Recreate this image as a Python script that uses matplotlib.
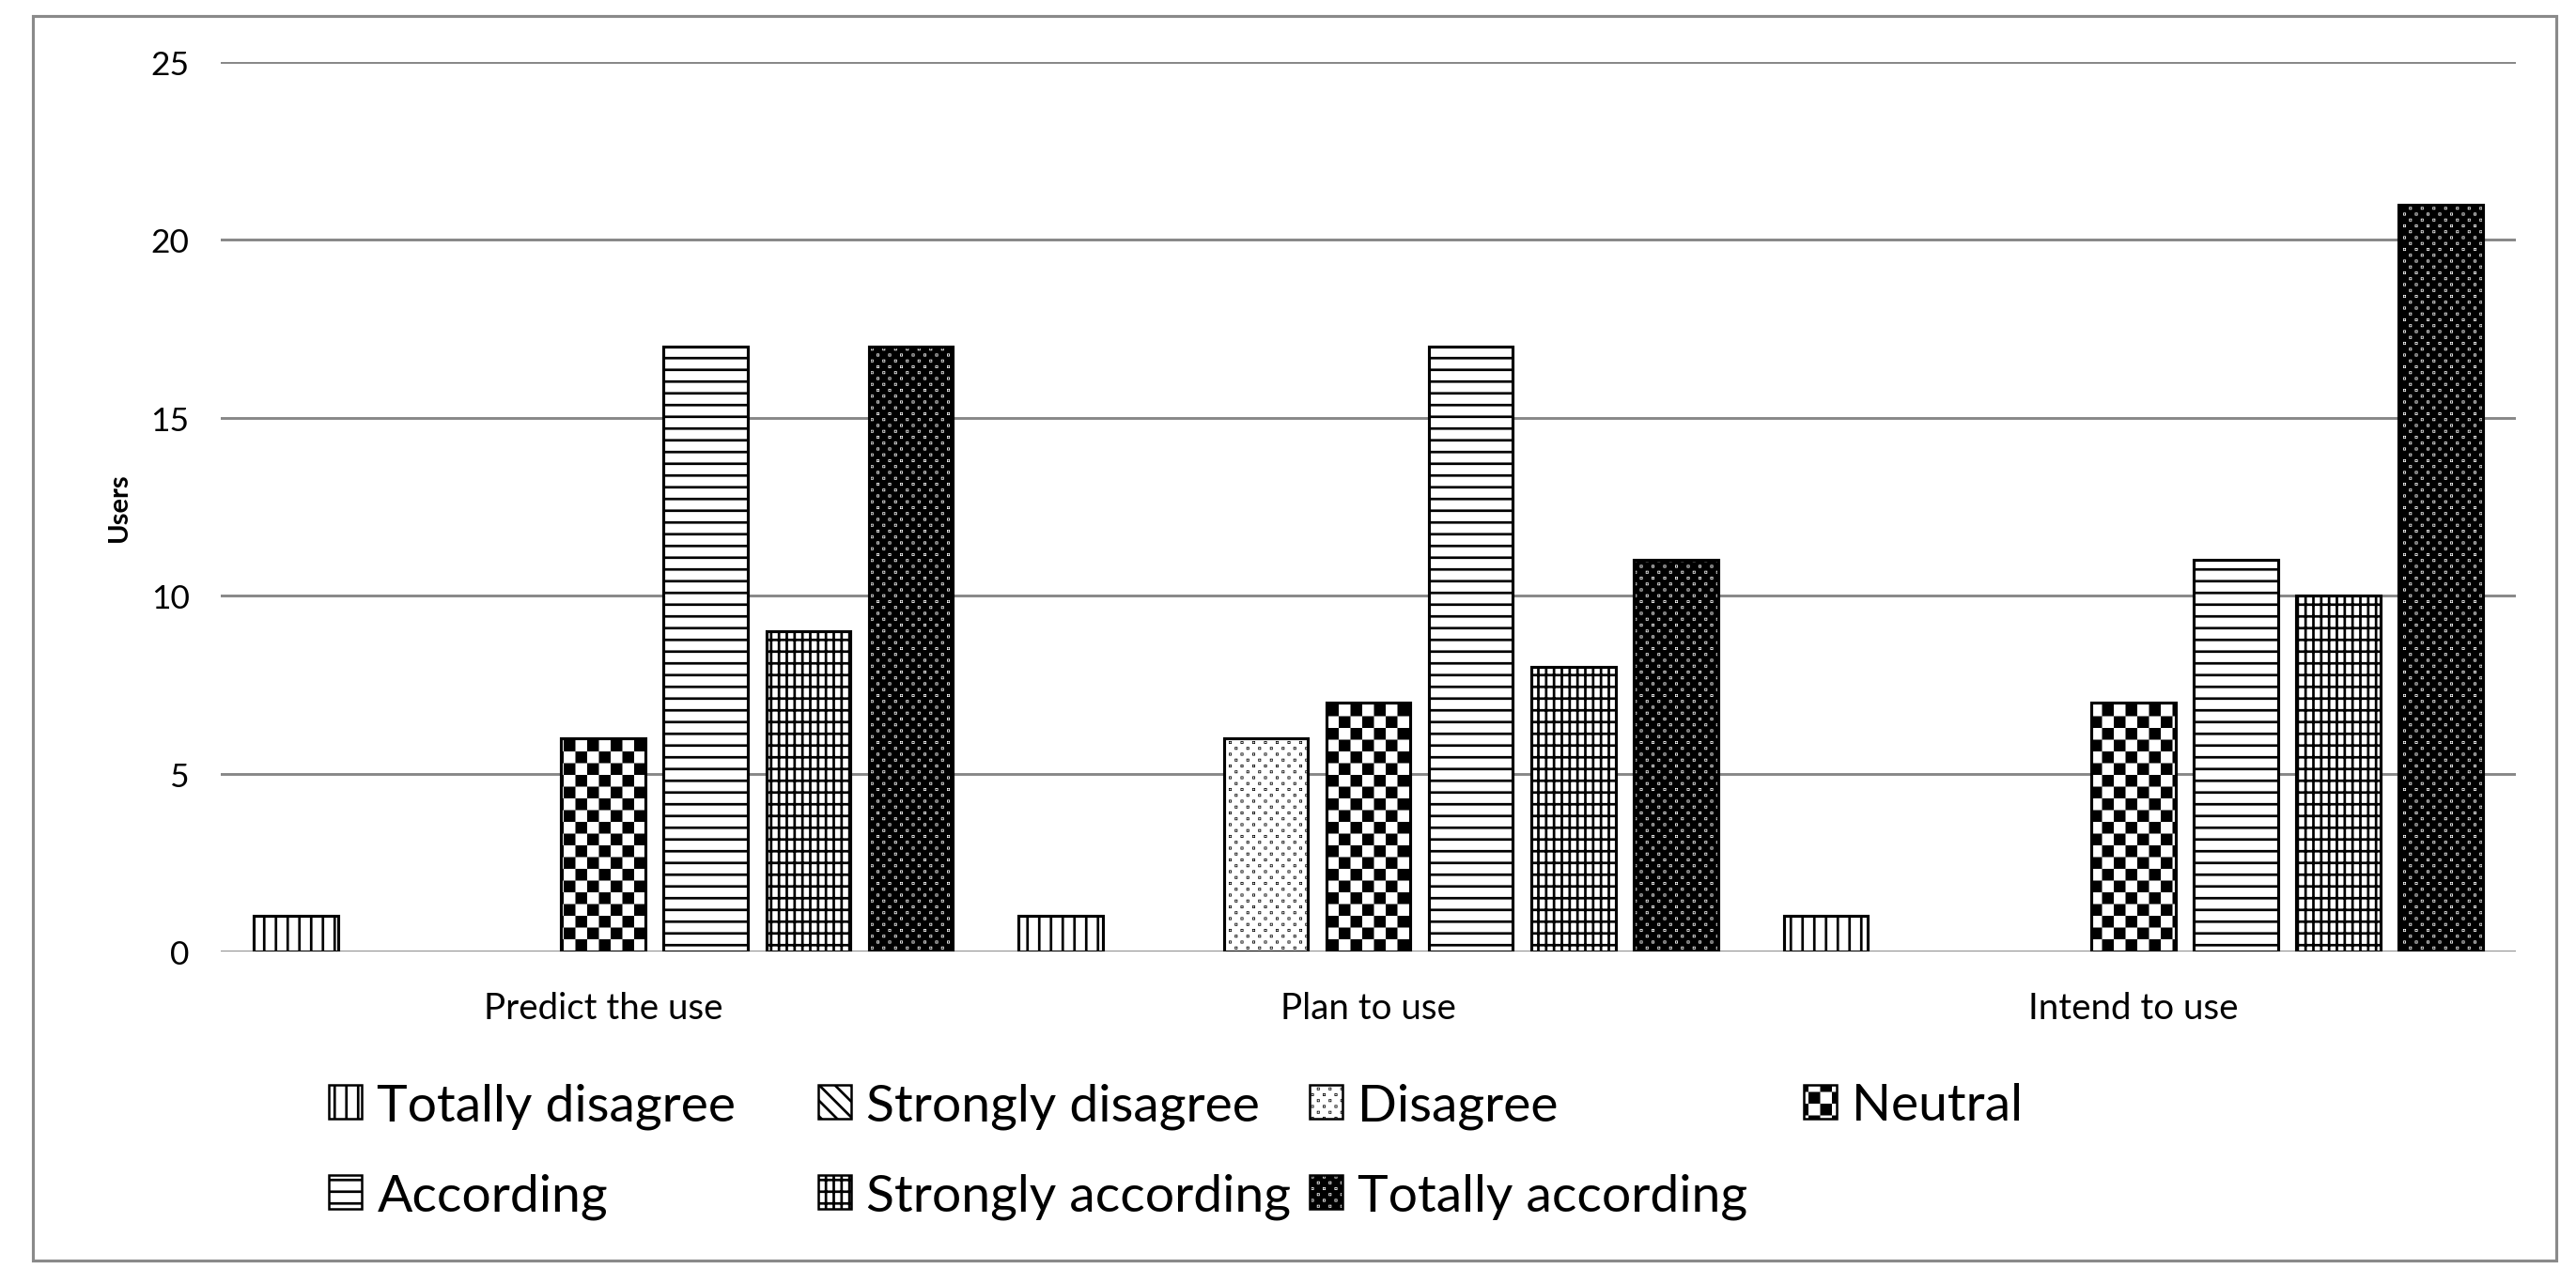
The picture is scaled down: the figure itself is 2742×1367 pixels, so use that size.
import warnings
import numpy as np
import matplotlib
matplotlib.use('Agg')
import matplotlib.pyplot as plt
import matplotlib.hatch as mhatch
from matplotlib.path import Path
from matplotlib.patches import Rectangle

warnings.filterwarnings('ignore')

# data
categories = ['Predict the use', 'Plan to use', 'Intend to use']
answers = ['Totally disagree', 'Strongly disagree', 'Disagree', 'Neutral',
           'According', 'Strongly according', 'Totally according']
totally_disagree = [1, 1, 1]
strongly_disagree = [0, 0, 0]
disagree = [0, 6, 0]
neutral = [6, 7, 7]
according = [17, 17, 11]
strongly_according = [9, 8, 10]
totally_according = [17, 11, 21]
series = [totally_disagree, strongly_disagree, disagree, neutral,
          according, strongly_according, totally_according]
y_ticks = [0, 5, 10, 15, 20, 25]

DPI = 150
HATCH_LW = 1.3   # points
BAR_LW = 1.5
GRID_COL = '#878787'


# extra hatch patterns: 'c' = checkerboard, 'd' = staggered dots
class CheckerHatch(mhatch.HatchPatternBase):
    def __init__(self, hatch, density):
        self.n = int(hatch.count('c') * density)
        self.cells = [(i, j) for i in range(self.n) for j in range(self.n)
                      if (i + j) % 2 == 0]
        self.num_vertices = len(self.cells) * 5

    def set_vertices_and_codes(self, vertices, codes):
        step = 1.0 / self.n
        inset = HATCH_LW / 72 / 2   # tile is one inch, stroke grows squares
        size = step - 2 * inset
        sq = np.array([[0, 0], [1, 0], [1, 1], [0, 1], [0, 0]], float)
        for k, (i, j) in enumerate(self.cells):
            vertices[k*5:(k+1)*5] = np.array([i*step + inset, j*step + inset]) + sq * size
            codes[k*5:(k+1)*5] = [Path.MOVETO, Path.LINETO, Path.LINETO,
                                  Path.LINETO, Path.CLOSEPOLY]


class DotHatch(mhatch.HatchPatternBase):
    def __init__(self, hatch, density):
        self.n = int(hatch.count('d') * density)
        self.dots = []
        for r in range(2 * self.n):
            for k in range(self.n):
                self.dots.append(((k + 0.25 + 0.5 * (r % 2)) / self.n,
                                  (r + 0.5) / (2 * self.n)))
        self.num_vertices = len(self.dots) * 5

    def set_vertices_and_codes(self, vertices, codes):
        s = 0.002
        sq = np.array([[0, 0], [1, 0], [1, 1], [0, 1], [0, 0]], float)
        for k, (x0, y0) in enumerate(self.dots):
            vertices[k*5:(k+1)*5] = np.array([x0, y0]) + sq * s
            codes[k*5:(k+1)*5] = [Path.MOVETO, Path.LINETO, Path.LINETO,
                                  Path.LINETO, Path.CLOSEPOLY]


mhatch._hatch_types.extend([CheckerHatch, DotHatch])

hatches = ['||', '\\\\\\', 'dd', 'cc', '--', '++|', 'dd']
faces = ['white', 'white', 'white', 'white', 'white', 'white', 'black']
hatch_cols = ['black'] * 6 + ['white']

plt.rcParams['font.family'] = ['Lato', 'DejaVu Sans']
plt.rcParams['hatch.linewidth'] = HATCH_LW


def set_hatch_color(p, c):
    if hasattr(p, 'set_hatchcolor'):
        p.set_hatchcolor(c)
    else:
        p._hatch_color = matplotlib.colors.to_rgba(c)


fig = plt.figure(figsize=(2742 / DPI, 1368 / DPI), dpi=DPI)
W, H = 2742, 1368
ax = fig.add_axes([235 / W, 1 - 1014 / H, (2678 - 235) / W, (1014 - 67) / H])

x = np.arange(len(categories))
n = len(series)
pitch = 0.134
width = 0.110
handles = []
for i, vals in enumerate(series):
    offs = (i - (n - 1) / 2) * pitch
    lws = [BAR_LW if v > 0 else 0 for v in vals]
    bars = ax.bar(x + offs, vals, width, facecolor=faces[i], edgecolor='black',
                  hatch=hatches[i], linewidth=lws, zorder=3)
    for p in bars:
        set_hatch_color(p, hatch_cols[i])
    h = Rectangle((0, 0), 1, 1, facecolor=faces[i], edgecolor='black',
                  hatch=hatches[i], linewidth=1.2, label=answers[i])
    set_hatch_color(h, hatch_cols[i])
    handles.append(h)

ax.set_xlim(-0.5, len(categories) - 0.5)
ax.set_ylim(y_ticks[0], y_ticks[-1])
ax.set_yticks(y_ticks)
ax.set_xticks(x)
ax.set_xticklabels(categories)
ax.tick_params(axis='both', length=0)
ax.tick_params(axis='y', pad=16, labelsize=17)
ax.tick_params(axis='x', pad=20, labelsize=18.5)
ax.grid(axis='y', color=GRID_COL, linewidth=1.4)
ax.set_axisbelow(True)
for s in ax.spines.values():
    s.set_visible(False)
ax.set_ylabel('Users', fontsize=14, fontweight='bold', labelpad=10)

# legend in four columns, two rows
col_x = [350 / W, 871 / W, 1394 / W, 1920 / W]
for c in range(4):
    hs = [handles[k] for k in (c, c + 4) if k < n]
    fig.legend(handles=hs, loc='upper left', bbox_to_anchor=(col_x[c], 0.157),
               frameon=False, fontsize=26.5, borderpad=0, borderaxespad=0,
               handlelength=0.63, handleheight=0.63, handletextpad=0.3,
               labelspacing=0.84)

# outer chart border
fig.patches.append(Rectangle((35 / W, 1 - 1343 / H), (2721 - 35) / W, (1343 - 18) / H,
                             transform=fig.transFigure, fill=False,
                             edgecolor='#8a8a8a', linewidth=1.5))

fig.savefig('out.png', dpi=DPI)
